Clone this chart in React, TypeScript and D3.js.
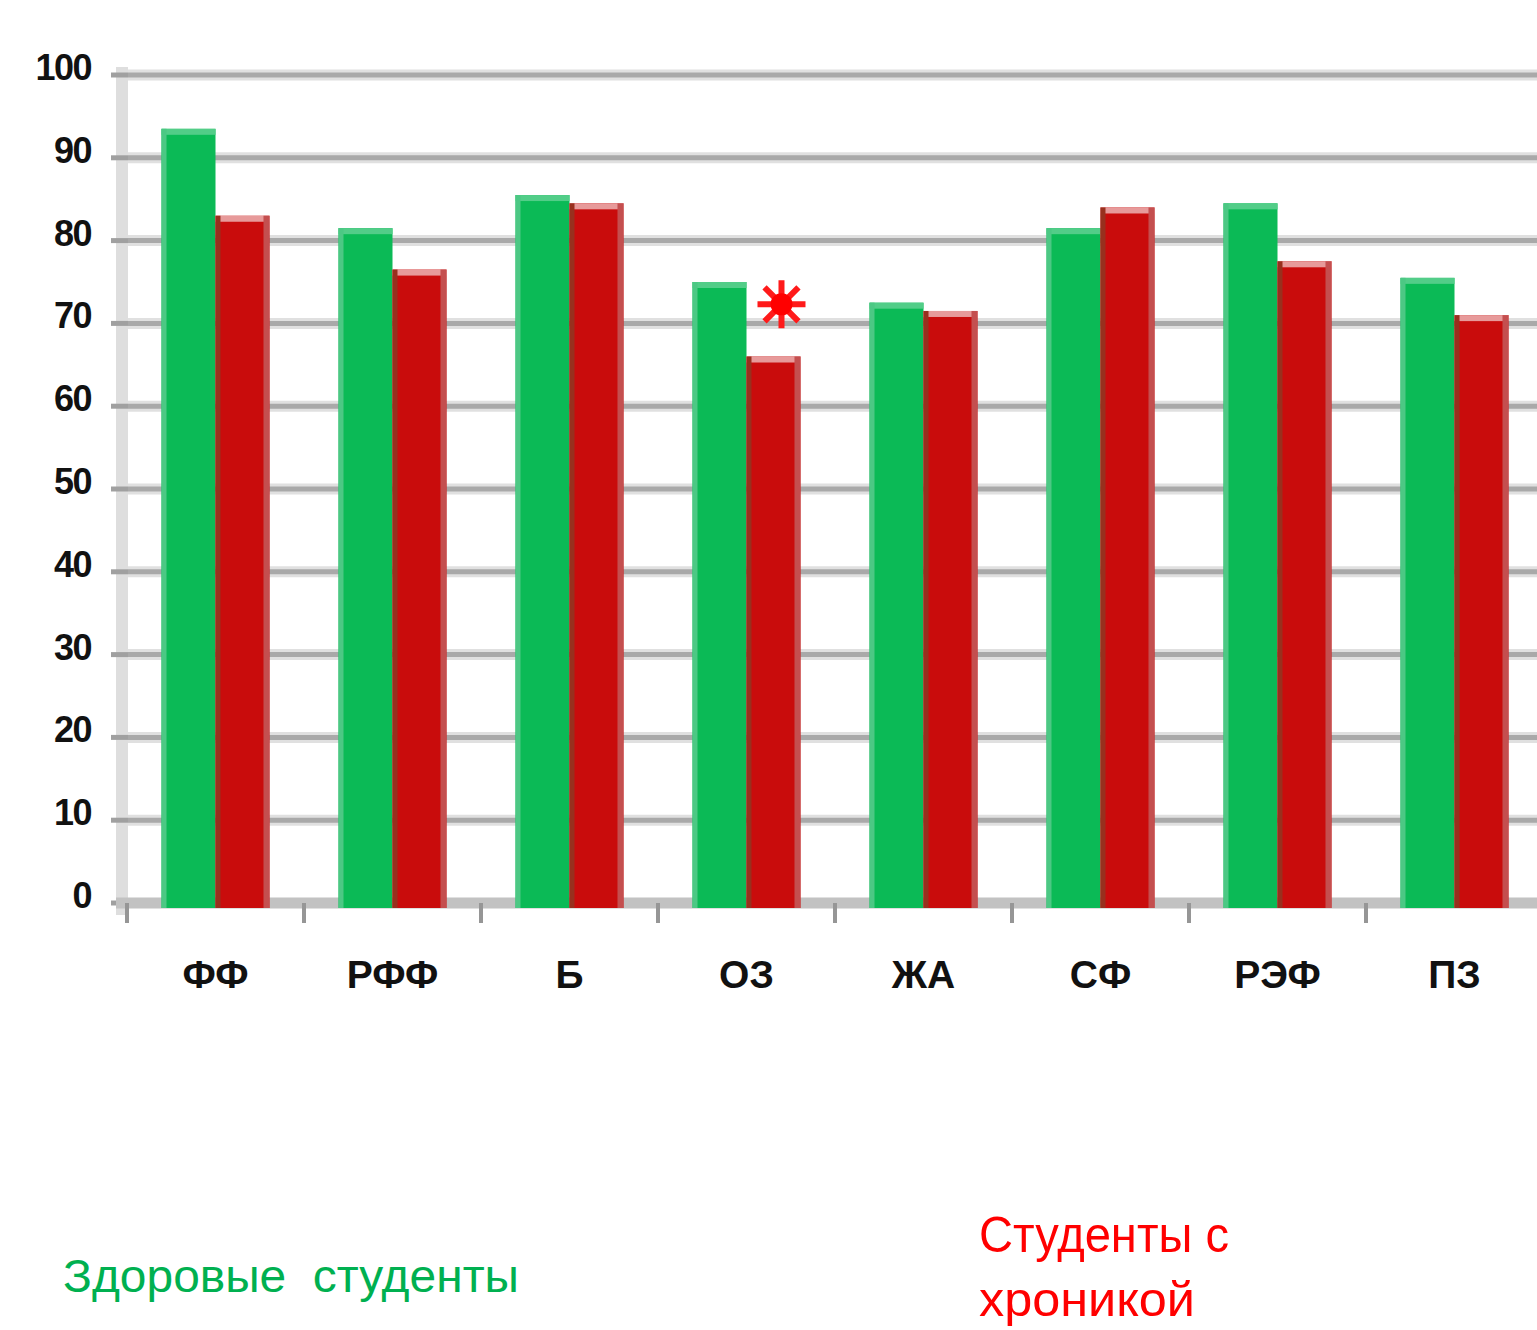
import { useEffect, useRef } from 'react';
import * as d3 from 'd3';

const categories = ['ФФ', 'РФФ', 'Б', 'ОЗ', 'ЖА', 'СФ', 'РЭФ', 'ПЗ'];
const healthy = [93.5, 81.5, 85.5, 75, 72.5, 81.5, 84.5, 75.5];
const chronic = [83, 76.5, 84.5, 66, 71.5, 84, 77.5, 71];
const yTicks = [0, 10, 20, 30, 40, 50, 60, 70, 80, 90, 100];
const seriesNames = ['Здоровые  студенты', 'Студенты с', 'хроникой'];
// significance mark sits above the chronic bar of this category
const markCategory = 'ОЗ';
const markValue = 72.3;

const WIDTH = 1537;
const HEIGHT = 1330;

const App: React.FC = () => {
	const ref = useRef<SVGSVGElement>(null);

	useEffect(() => {
		if (!ref.current) return;
		const svg = d3.select(ref.current);
		svg.selectAll('*').remove();

		const y = d3.scaleLinear().domain([0, 100]).range([903, 75]);
		const x = d3
			.scaleBand<string>()
			.domain(categories)
			.range([127, 1543])
			.paddingInner(0.39)
			.paddingOuter(0.195);
		const series = d3
			.scaleBand<string>()
			.domain(['healthy', 'chronic'])
			.range([0, x.bandwidth()]);
		const step = x.step();

		// y axis band
		svg.append('rect')
			.attr('x', 116)
			.attr('y', y(100) - 8)
			.attr('width', 12)
			.attr('height', y(0) - y(100) + 20)
			.attr('fill', '#dedede');

		// grid lines
		const grid = svg.append('g');
		yTicks.filter((t) => t > 0).forEach((t) => {
			grid.append('line')
				.attr('x1', 128)
				.attr('x2', WIDTH)
				.attr('y1', y(t))
				.attr('y2', y(t))
				.attr('stroke', '#e0e0e0')
				.attr('stroke-width', 11);
			grid.append('line')
				.attr('x1', 128)
				.attr('x2', WIDTH)
				.attr('y1', y(t))
				.attr('y2', y(t))
				.attr('stroke', '#a9a9a9')
				.attr('stroke-width', 5);
		});
		yTicks.forEach((t) => {
			grid.append('line')
				.attr('x1', 111)
				.attr('x2', 128)
				.attr('y1', y(t))
				.attr('y2', y(t))
				.attr('stroke', '#a0a0a0')
				.attr('stroke-width', 5);
		});

		// baseline
		svg.append('line')
			.attr('x1', 116)
			.attr('x2', WIDTH)
			.attr('y1', y(0))
			.attr('y2', y(0))
			.attr('stroke', '#c2c2c2')
			.attr('stroke-width', 11);

		// category ticks
		categories.forEach((c) => {
			const tx = (x(c) ?? 0) - (step * 0.39) / 2;
			svg.append('line')
				.attr('x1', tx)
				.attr('x2', tx)
				.attr('y1', y(0))
				.attr('y2', y(0) + 20)
				.attr('stroke', '#969696')
				.attr('stroke-width', 4);
		});

		// bars
		const bars = svg.append('g');
		const bottom = y(0) + 5;
		categories.forEach((c, i) => {
			const gx = x(c) ?? 0;
			const w = series.bandwidth();

			const hx = gx + (series('healthy') ?? 0);
			const hy = y(healthy[i]);
			bars.append('rect')
				.attr('x', hx)
				.attr('y', hy)
				.attr('width', w)
				.attr('height', bottom - hy)
				.attr('fill', '#0bba56');
			bars.append('rect')
				.attr('x', hx)
				.attr('y', hy)
				.attr('width', w)
				.attr('height', 6)
				.attr('fill', '#52cd88');
			bars.append('rect')
				.attr('x', hx)
				.attr('y', hy)
				.attr('width', 5)
				.attr('height', bottom - hy)
				.attr('fill', '#4cc884');

			const cx = gx + (series('chronic') ?? 0);
			const cy = y(chronic[i]);
			bars.append('rect')
				.attr('x', cx)
				.attr('y', cy)
				.attr('width', w)
				.attr('height', bottom - cy)
				.attr('fill', '#c90c0c');
			bars.append('rect')
				.attr('x', cx)
				.attr('y', cy)
				.attr('width', w)
				.attr('height', 6)
				.attr('fill', '#e79a9a');
			bars.append('rect')
				.attr('x', cx + w - 6)
				.attr('y', cy)
				.attr('width', 6)
				.attr('height', bottom - cy)
				.attr('fill', '#c44f4f');
			bars.append('rect')
				.attr('x', cx)
				.attr('y', cy)
				.attr('width', 5)
				.attr('height', bottom - cy)
				.attr('fill', '#98301e');
		});

		// y labels
		svg.append('g')
			.selectAll('text')
			.data(yTicks)
			.join('text')
			.attr('x', 91)
			.attr('y', (d) => y(d) + 5)
			.attr('text-anchor', 'end')
			.style('font-family', 'Liberation Sans, Arial, sans-serif')
			.style('font-size', '36px')
			.style('font-weight', 'bold')
			.style('letter-spacing', '-1.5px')
			.style('fill', '#111')
			.text((d) => d);

		// x labels
		svg.append('g')
			.selectAll('text')
			.data(categories)
			.join('text')
			.attr('x', (d) => (x(d) ?? 0) + x.bandwidth() / 2)
			.attr('y', 988)
			.attr('text-anchor', 'middle')
			.style('font-family', 'Liberation Sans, Arial, sans-serif')
			.style('font-size', '39px')
			.style('font-weight', 'bold')
			.style('fill', '#111')
			.text((d) => d);

		// significance mark
		const mx = (x(markCategory) ?? 0) + (series('chronic') ?? 0) + series.bandwidth() / 2 + 8;
		const my = y(markValue);
		const star = d3.path();
		const r = 24;
		for (let k = 0; k < 4; k++) {
			const a = (k * Math.PI) / 4;
			star.moveTo(mx + r * Math.cos(a), my + r * Math.sin(a));
			star.lineTo(mx - r * Math.cos(a), my - r * Math.sin(a));
		}
		svg.append('path')
			.attr('d', star.toString())
			.attr('stroke', '#ff1a1a')
			.attr('stroke-width', 6)
			.attr('fill', 'none');
		svg.append('circle')
			.attr('cx', mx)
			.attr('cy', my)
			.attr('r', 11)
			.attr('fill', '#ff0000');

		// legend
		svg.append('text')
			.attr('x', 63)
			.attr('y', 1292)
			.attr('textLength', 456)
			.attr('lengthAdjust', 'spacingAndGlyphs')
			.style('white-space', 'pre')
			.style('font-family', 'Liberation Sans, Arial, sans-serif')
			.style('font-size', '46px')
			.style('fill', '#00b050')
			.text(seriesNames[0]);
		svg.append('text')
			.attr('x', 979)
			.attr('y', 1252)
			.attr('textLength', 250)
			.attr('lengthAdjust', 'spacingAndGlyphs')
			.style('font-family', 'Liberation Sans, Arial, sans-serif')
			.style('font-size', '50px')
			.style('fill', '#ff0000')
			.text(seriesNames[1]);
		svg.append('text')
			.attr('x', 979)
			.attr('y', 1316)
			.attr('textLength', 216)
			.attr('lengthAdjust', 'spacingAndGlyphs')
			.style('font-family', 'Liberation Sans, Arial, sans-serif')
			.style('font-size', '48px')
			.style('fill', '#ff0000')
			.text(seriesNames[2]);
	}, []);

	return (
		<svg
			ref={ref}
			width={WIDTH}
			height={HEIGHT}
			style={{ position: 'absolute', left: 0, top: 0, background: '#fff' }}
		></svg>
	);
};

export default App;
